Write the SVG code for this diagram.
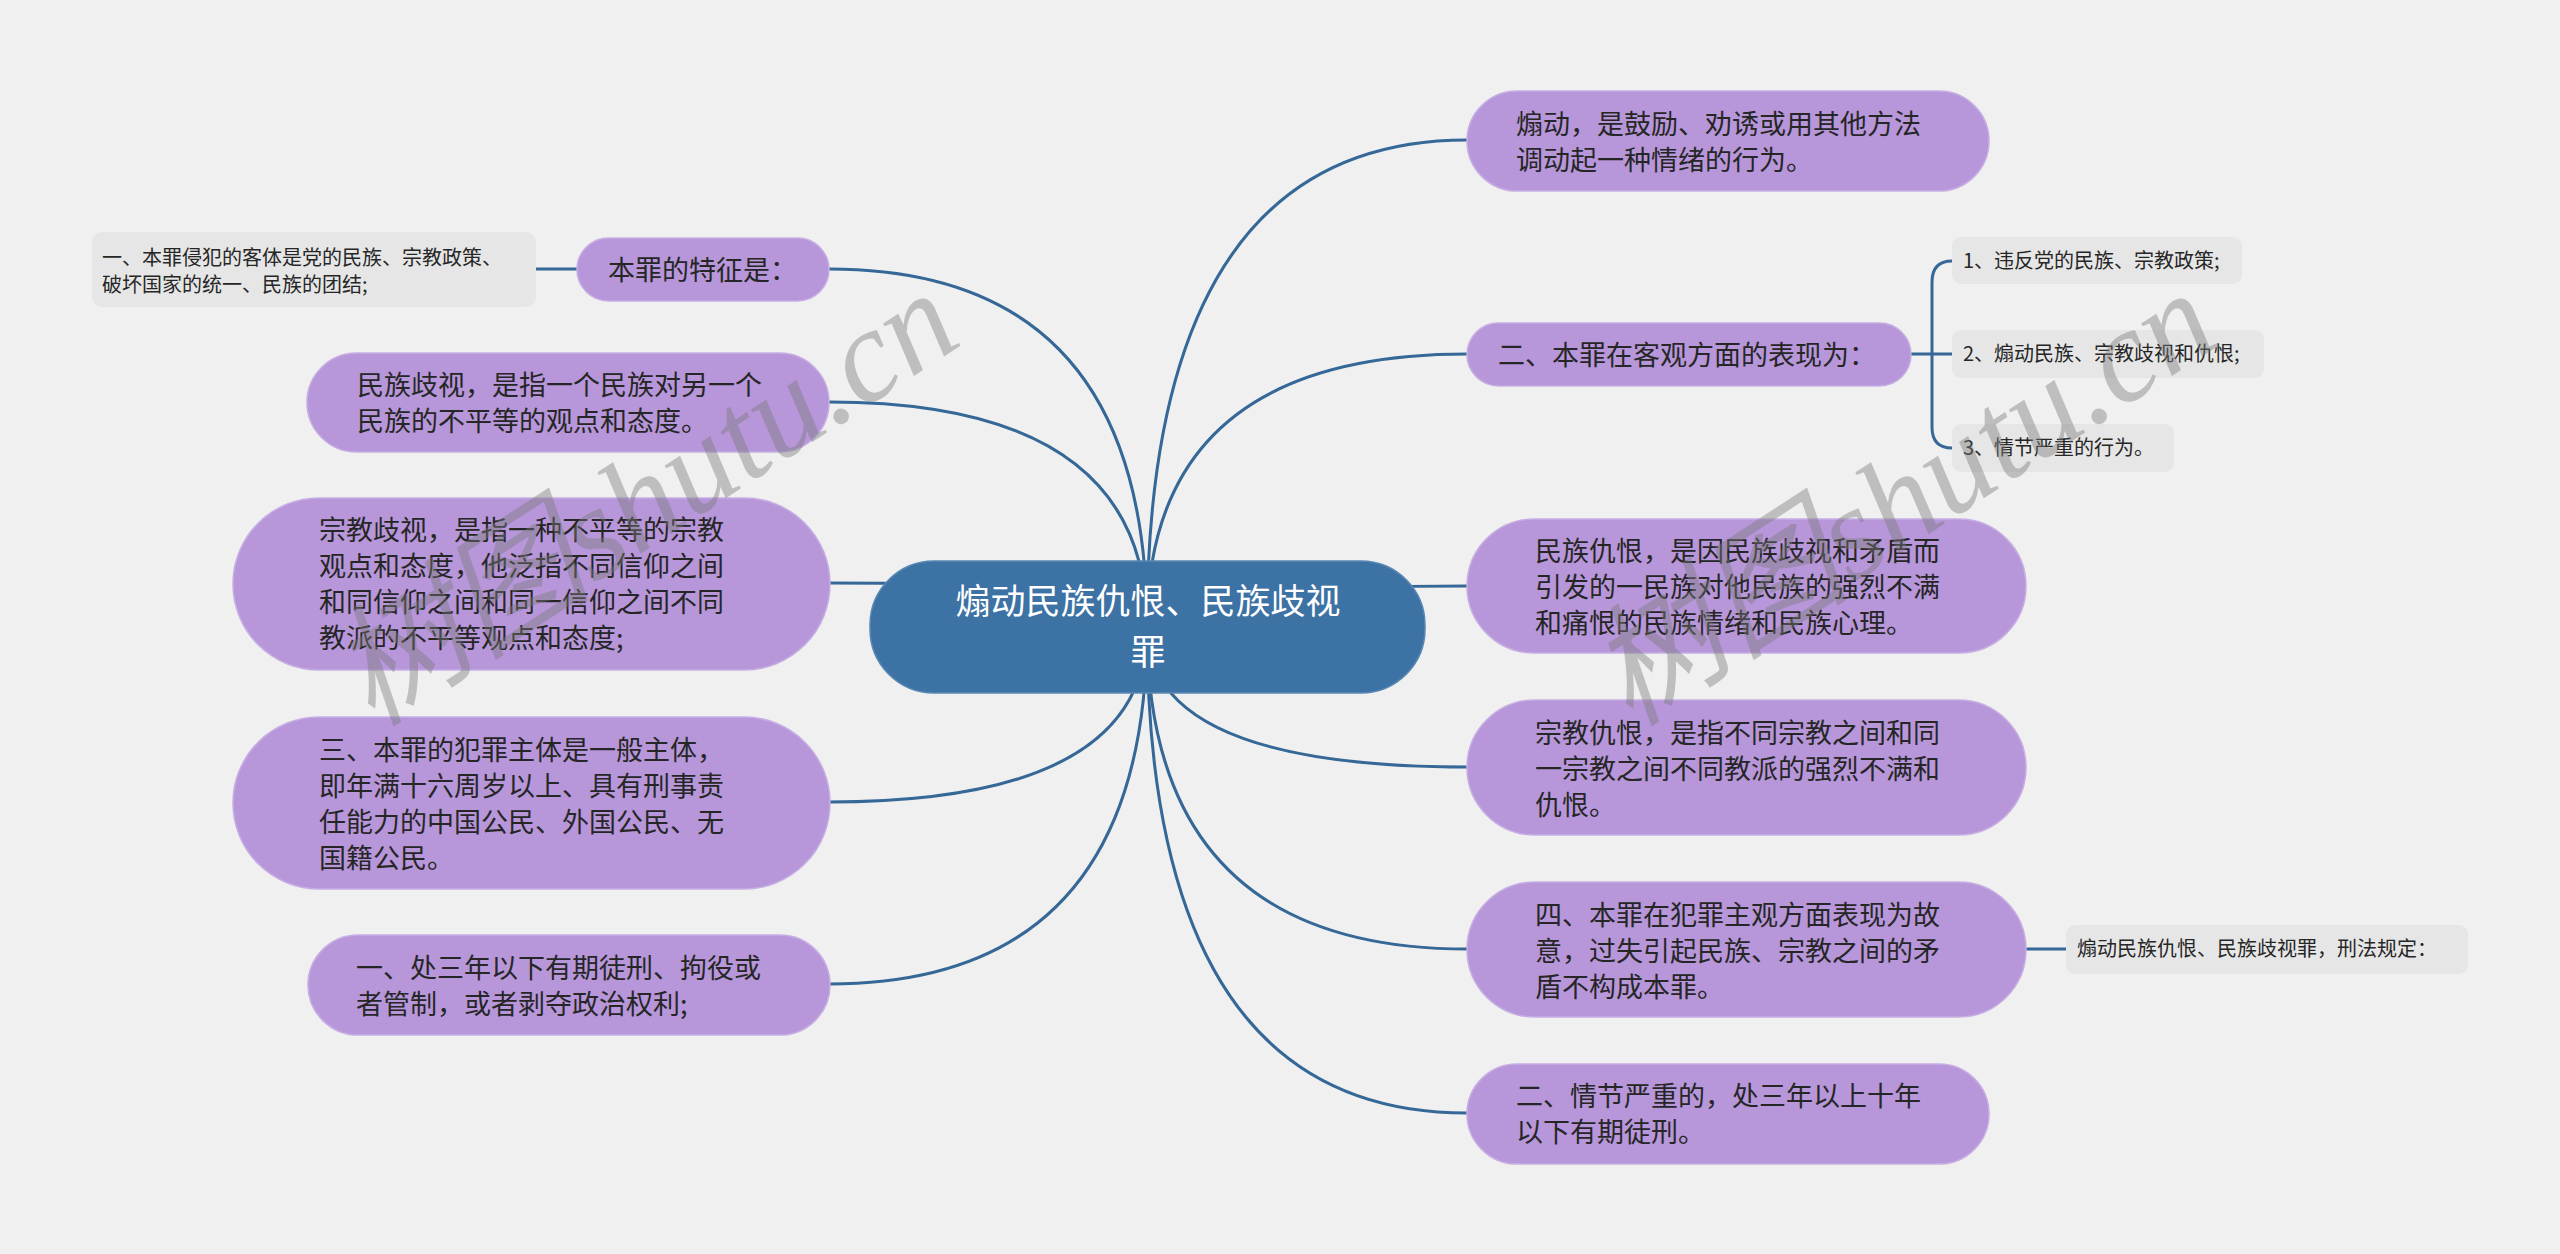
<svg xmlns="http://www.w3.org/2000/svg" width="2560" height="1254" viewBox="0 0 2560 1254">
<style>
.bg{fill:#f0f0f0}
.pn{fill:#b796da;stroke:#c6aee3;stroke-width:1.5}
.gb{fill:#e6e6e6}
.root{fill:#3d72a4;stroke:#5a88b4;stroke-width:1.5}
.t{font-family:"Noto Sans CJK SC","Noto Sans",sans-serif;font-size:27px;fill:#262626}
.ts{font-family:"Noto Sans CJK SC","Noto Sans",sans-serif;font-size:20px;fill:#262626}
.tr{font-family:"Noto Sans CJK SC","Noto Sans",sans-serif;font-size:35px;fill:#ffffff;text-anchor:middle}
.c{fill:none;stroke:#356797;stroke-width:3}
.wm{font-family:"Liberation Serif","Noto Sans CJK SC",serif;font-style:italic;font-size:132px;fill:#7a7a7a;fill-opacity:0.42}
</style>
<rect class="bg" x="0" y="0" width="2560" height="1254"/>
<g id="connectors">
<path class="c" d="M1147 627 Q1147 269 829 269"/>
<path class="c" d="M1147 627 Q1147 402 829 402"/>
<path class="c" d="M1147 627 Q1147 583 829 583"/>
<path class="c" d="M1147 627 Q1147 802 829 802"/>
<path class="c" d="M1147 627 Q1147 984 829 984"/>
<path class="c" d="M1147 627 Q1147 140 1467 140"/>
<path class="c" d="M1147 627 Q1147 354 1467 354"/>
<path class="c" d="M1147 627 Q1147 586 1467 586"/>
<path class="c" d="M1147 627 Q1147 767 1467 767"/>
<path class="c" d="M1147 627 Q1147 949 1467 949"/>
<path class="c" d="M1147 627 Q1147 1113 1467 1113"/>
<path class="c" d="M577 269 L536 269"/>
<path class="c" d="M1911 354 L1952 354"/>
<path class="c" d="M1952 261 Q1932 261 1932 282 L1932 427 Q1932 448 1952 448"/>
<path class="c" d="M2026 949 L2066 949"/>
</g>
<g id="root">
<rect class="root" x="870" y="561" width="555" height="132" rx="64"/>
<text class="tr"><tspan x="1148" y="614">煽动民族仇恨、民族歧视</tspan><tspan x="1148" y="665">罪</tspan></text>
</g>
<g id="n-tezheng">
<rect class="pn" x="577" y="238" width="252" height="63" rx="31.5"/>
<text class="t" x="608" y="280">本罪的特征是：</text>
</g>
<g id="n-keti">
<rect class="gb" x="92" y="232" width="444" height="75" rx="10"/>
<text class="ts" x="102" y="265">一、本罪侵犯的客体是党的民族、宗教政策、</text>
<text class="ts" x="102" y="292">破坏国家的统一、民族的团结;</text>
</g>
<g id="n-minzuqishi">
<rect class="pn" x="307" y="353" width="522" height="99" rx="49.5"/>
<text class="t" x="357" y="395">民族歧视，是指一个民族对另一个</text>
<text class="t" x="357" y="431">民族的不平等的观点和态度。</text>
</g>
<g id="n-zongjiaoqishi">
<rect class="pn" x="233" y="498" width="597" height="172" rx="86"/>
<text class="t" x="319" y="540">宗教歧视，是指一种不平等的宗教</text>
<text class="t" x="319" y="576">观点和态度，他泛指不同信仰之间</text>
<text class="t" x="319" y="612">和同信仰之间和同一信仰之间不同</text>
<text class="t" x="319" y="648">教派的不平等观点和态度;</text>
</g>
<g id="n-zhuti">
<rect class="pn" x="233" y="717" width="597" height="172" rx="86"/>
<text class="t" x="319" y="760">三、本罪的犯罪主体是一般主体，</text>
<text class="t" x="319" y="796">即年满十六周岁以上、具有刑事责</text>
<text class="t" x="319" y="832">任能力的中国公民、外国公民、无</text>
<text class="t" x="319" y="868">国籍公民。</text>
</g>
<g id="n-chu3nian">
<rect class="pn" x="308" y="935" width="522" height="100" rx="50"/>
<text class="t" x="356" y="978">一、处三年以下有期徒刑、拘役或</text>
<text class="t" x="356" y="1014">者管制，或者剥夺政治权利;</text>
</g>
<g id="n-shandong">
<rect class="pn" x="1467" y="91" width="522" height="100" rx="50"/>
<text class="t" x="1516" y="134">煽动，是鼓励、劝诱或用其他方法</text>
<text class="t" x="1516" y="170">调动起一种情绪的行为。</text>
</g>
<g id="n-keguan">
<rect class="pn" x="1467" y="323" width="444" height="63" rx="31.5"/>
<text class="t" x="1498" y="365">二、本罪在客观方面的表现为：</text>
</g>
<g id="n-k1">
<rect class="gb" x="1952" y="237" width="290" height="47" rx="9"/>
<text class="ts" x="1963" y="268">1、违反党的民族、宗教政策;</text>
</g>
<g id="n-k2">
<rect class="gb" x="1952" y="330" width="312" height="48" rx="9"/>
<text class="ts" x="1963" y="361">2、煽动民族、宗教歧视和仇恨;</text>
</g>
<g id="n-k3">
<rect class="gb" x="1952" y="424" width="222" height="48" rx="9"/>
<text class="ts" x="1963" y="455">3、情节严重的行为。</text>
</g>
<g id="n-minzuchouhen">
<rect class="pn" x="1467" y="519" width="559" height="134" rx="67"/>
<text class="t" x="1535" y="561">民族仇恨，是因民族歧视和矛盾而</text>
<text class="t" x="1535" y="597">引发的一民族对他民族的强烈不满</text>
<text class="t" x="1535" y="633">和痛恨的民族情绪和民族心理。</text>
</g>
<g id="n-zongjiaochouhen">
<rect class="pn" x="1467" y="700" width="559" height="135" rx="67.5"/>
<text class="t" x="1535" y="743">宗教仇恨，是指不同宗教之间和同</text>
<text class="t" x="1535" y="779">一宗教之间不同教派的强烈不满和</text>
<text class="t" x="1535" y="815">仇恨。</text>
</g>
<g id="n-zhuguan">
<rect class="pn" x="1467" y="882" width="559" height="135" rx="67.5"/>
<text class="t" x="1535" y="925">四、本罪在犯罪主观方面表现为故</text>
<text class="t" x="1535" y="961">意，过失引起民族、宗教之间的矛</text>
<text class="t" x="1535" y="997">盾不构成本罪。</text>
</g>
<g id="n-xingfa">
<rect class="gb" x="2066" y="925" width="402" height="49" rx="9"/>
<text class="ts" x="2077" y="956">煽动民族仇恨、民族歧视罪，刑法规定：</text>
</g>
<g id="n-qingjie">
<rect class="pn" x="1467" y="1064" width="522" height="100" rx="50"/>
<text class="t" x="1516" y="1106">二、情节严重的，处三年以上十年</text>
<text class="t" x="1516" y="1142">以下有期徒刑。</text>
</g>
<g id="watermark">
<text class="wm" transform="translate(372 728) rotate(-33)">树图shutu.cn</text>
<text class="wm" transform="translate(1630 728) rotate(-33)">树图shutu.cn</text>
</g>
</svg>
